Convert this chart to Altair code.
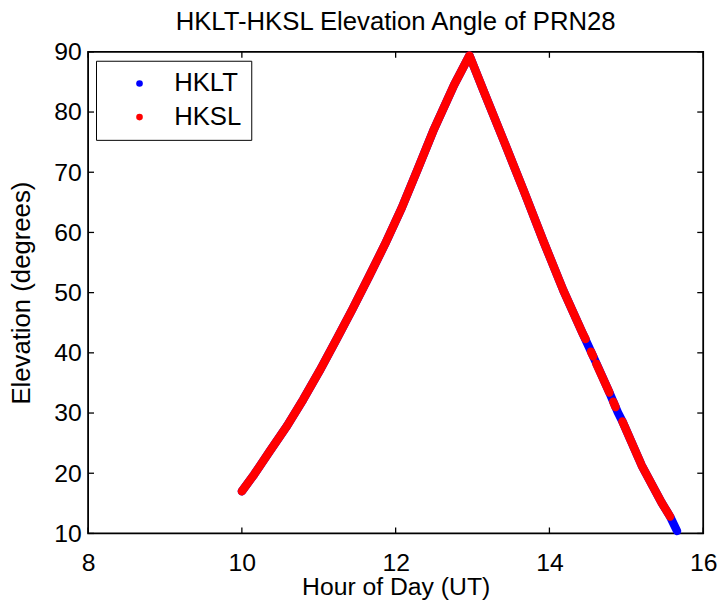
import altair as alt
import pandas as pd

# ---- values ----
# HKLT (blue) elevation track
hklt_hour = [10.00, 10.16, 10.37, 10.59, 10.80, 11.01, 11.23, 11.44, 11.65, 11.86,
             12.08, 12.29, 12.50, 12.76, 12.96, 13.15, 13.41, 13.67, 13.92, 14.18,
             14.43, 14.56, 14.78, 14.89, 14.95, 15.20, 15.46, 15.57, 15.66]
hklt_elev = [17.0, 19.8, 23.8, 27.9, 32.3, 37.0, 42.2, 47.3, 52.6, 58.0,
             64.1, 70.6, 77.2, 84.5, 89.4, 83.3, 75.1, 66.8, 58.6, 50.4,
             43.3, 39.7, 33.4, 30.1, 28.6, 21.3, 15.1, 12.8, 10.4]

# HKSL (red) elevation track, in runs separated by small gaps
hksl_hour = [10.00, 10.16, 10.37, 10.59, 10.80, 11.01, 11.23, 11.44, 11.65, 11.86,
             12.08, 12.29, 12.50, 12.76, 12.96, 13.15, 13.41, 13.67, 13.92, 14.18,
             14.43, 14.47,
             14.54, 14.57,
             14.61, 14.78,
             14.83, 14.86,
             14.95, 15.20, 15.46, 15.57]
hksl_elev = [17.0, 19.8, 23.8, 27.9, 32.3, 37.0, 42.2, 47.3, 52.6, 58.0,
             64.1, 70.6, 77.2, 84.5, 89.4, 83.3, 75.1, 66.8, 58.6, 50.4,
             43.3, 42.3,
             40.2, 39.4,
             38.2, 33.4,
             31.9, 31.0,
             28.6, 21.3, 15.1, 12.8]
hksl_run = [1] * 22 + [2, 2] + [3, 3] + [4, 4] + [5, 5, 5, 5]

series_names = ["HKLT", "HKSL"]
series_colors = ["#0000ff", "#ff0000"]
x_ticks = [8, 10, 12, 14, 16]
y_ticks = [10, 20, 30, 40, 50, 60, 70, 80, 90]

blue = pd.DataFrame({"hour": hklt_hour, "elev": hklt_elev, "series": "HKLT", "run": 1})
red = pd.DataFrame({"hour": hksl_hour, "elev": hksl_elev, "series": "HKSL", "run": hksl_run})
xt = pd.DataFrame({"v": x_ticks})
yt = pd.DataFrame({"v": y_ticks})

W, H = 622, 487
FONT = "Liberation Sans"

xscale = alt.Scale(domain=[8, 16], nice=False, zero=False)
yscale = alt.Scale(domain=[10, 90], nice=False, zero=False)
cscale = alt.Scale(domain=series_names, range=series_colors)

xax = alt.Axis(values=x_ticks, title="Hour of Day (UT)", ticks=False, tickSize=0,
               domain=False, grid=False, labelPadding=17, titlePadding=0,
               labelFontSize=25, titleFontSize=25, labelColor="black",
               titleColor="black", labelFont=FONT, titleFont=FONT,
               titleFontWeight="normal", format="d", labelFlush=False)
yax = alt.Axis(values=y_ticks, title="Elevation (degrees)", ticks=False, tickSize=0,
               domain=False, grid=False, labelPadding=7, titlePadding=19,
               labelFontSize=25, titleFontSize=26, labelColor="black",
               titleColor="black", labelFont=FONT, titleFont=FONT,
               titleFontWeight="normal", format="d", labelFlush=False)

X = alt.X("hour:Q", scale=xscale, axis=xax)
Y = alt.Y("elev:Q", scale=yscale, axis=yax)

legend = alt.Legend(title=None, orient="none", legendX=8, legendY=9,
                    symbolType="circle", symbolSize=45, symbolOffset=21,
                    labelOffset=22, labelFontSize=26, labelFont=FONT,
                    labelColor="black", padding=10, rowPadding=8,
                    strokeColor="black", fillColor="white", symbolStrokeWidth=0)
color_enc = alt.Color("series:N", scale=cscale, legend=legend)

line_blue = alt.Chart(blue).mark_line(color=series_colors[0], strokeWidth=8.5, strokeCap="round",
                                      strokeJoin="round", clip=False).encode(x=X, y=Y)
pts_blue = alt.Chart(blue).mark_point(filled=True, size=40, opacity=1, clip=False).encode(
    x=X, y=Y, color=color_enc)
line_red = alt.Chart(red).mark_line(color=series_colors[1], strokeWidth=8.5, strokeCap="round",
                                    strokeJoin="round", clip=False).encode(x=X, y=Y, detail="run:N")
pts_red = alt.Chart(red).mark_point(filled=True, size=40, opacity=1, clip=False).encode(
    x=X, y=Y, color=color_enc)

tick_len = 6
xt_bottom = alt.Chart(xt).mark_rule(color="black", strokeWidth=1.3).encode(
    x=alt.X("v:Q", scale=xscale), y=alt.value(H), y2=alt.value(H - tick_len))
xt_top = alt.Chart(xt).mark_rule(color="black", strokeWidth=1.3).encode(
    x=alt.X("v:Q", scale=xscale), y=alt.value(0), y2=alt.value(tick_len))
yt_left = alt.Chart(yt).mark_rule(color="black", strokeWidth=1.3).encode(
    y=alt.Y("v:Q", scale=yscale), x=alt.value(0), x2=alt.value(tick_len))
yt_right = alt.Chart(yt).mark_rule(color="black", strokeWidth=1.3).encode(
    y=alt.Y("v:Q", scale=yscale), x=alt.value(W), x2=alt.value(W - tick_len))

chart = alt.layer(
    xt_bottom, xt_top, yt_left, yt_right,
    line_blue, pts_blue, line_red, pts_red,
).properties(
    width=W, height=H,
    title=alt.TitleParams("HKLT-HKSL Elevation Angle of PRN28", fontSize=26,
                          font=FONT, fontWeight="normal", color="black",
                          anchor="middle", offset=5),
    autosize=alt.AutoSizeParams(type="none"),
    padding={"left": 81, "top": 41, "right": 17, "bottom": 66},
).configure(
    background="white",
    view=alt.ViewConfig(stroke="black", strokeWidth=1.8),
)

chart.save("out.html", embed_options={"renderer": "svg", "actions": False})
